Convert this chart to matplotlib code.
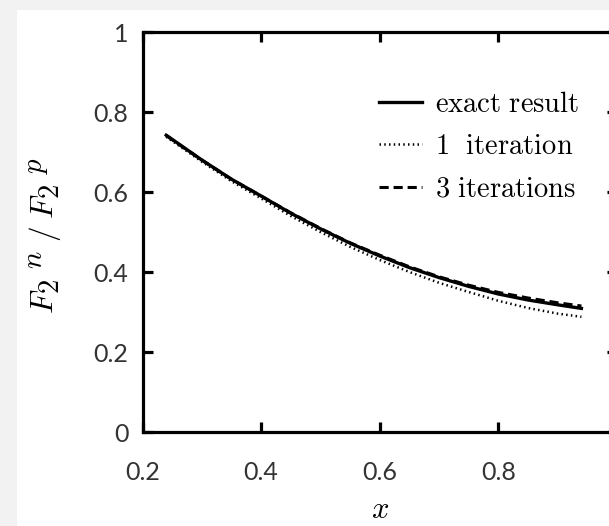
## F2n/F2p ratio vs x, exact result against iteration approximations

import matplotlib
matplotlib.use('Agg')
import matplotlib.pyplot as plt
import matplotlib._mathtext as mt
from matplotlib.patches import Rectangle

plt.rcParams['mathtext.fontset'] = 'cm'
mt.SHRINK_FACTOR = 0.92   # the original label has nearly full-size scripts

# Data
x_vals      = [0.24, 0.30, 0.35, 0.40, 0.45, 0.50, 0.55, 0.60, 0.65, 0.70, 0.75, 0.80, 0.85, 0.90, 0.94]
exact       = [0.742, 0.680, 0.632, 0.590, 0.547, 0.508, 0.472, 0.440, 0.411, 0.386, 0.364, 0.345, 0.330, 0.318, 0.309]
iter_1      = [0.738, 0.676, 0.627, 0.584, 0.540, 0.500, 0.463, 0.430, 0.400, 0.373, 0.350, 0.328, 0.310, 0.296, 0.288]
iter_3      = [0.741, 0.680, 0.632, 0.590, 0.548, 0.509, 0.473, 0.442, 0.413, 0.388, 0.367, 0.349, 0.335, 0.323, 0.315]

x_ticks      = [0.2, 0.4, 0.6, 0.8]
x_ticklabels = ['0.2', '0.4', '0.6', '0.8']
y_ticks      = [0, 0.2, 0.4, 0.6, 0.8, 1.0]
y_ticklabels = ['0', '0.2', '0.4', '0.6', '0.8', '1']

W, H = 609, 526
fig = plt.figure(figsize=(W/100, H/100), dpi=100)
fig.patch.set_facecolor('#f2f2f2')
fig.patches.append(Rectangle((17/W, 0), 1, (H-10)/H, transform=fig.transFigure,
                             facecolor='white', edgecolor='none', zorder=-10))

# axes runs off the right edge, like the cropped original
ax = fig.add_axes([142.5/W, 94/H, (617-142.5)/W, 400/H])
ax.set_facecolor('white')

ax.plot(x_vals, iter_1, color='black', lw=1.8, linestyle=(0, (0.6, 1.3)), label=r'$\mathrm{1\ \ iteration}$')
ax.plot(x_vals, iter_3, color='black', lw=2.2, linestyle=(0, (3, 1.6)), label=r'$\mathrm{3\ iterations}$')
ax.plot(x_vals, exact, color='black', lw=2.4, label=r'$\mathrm{exact\ result}$')

ax.set_xlim(0.2, 1.0)
ax.set_ylim(0, 1)
ax.set_xticks(x_ticks)
ax.set_xticklabels(x_ticklabels)
ax.set_yticks(y_ticks)
ax.set_yticklabels(y_ticklabels)

for s in ax.spines.values():
    s.set_linewidth(2.3)

ax.tick_params(direction='in', length=7.5, width=2.3, top=True, right=True,
               labelsize=18, labelcolor='#333333')
ax.tick_params(axis='x', pad=21)
ax.tick_params(axis='y', pad=10)
for lab in ax.get_xticklabels() + ax.get_yticklabels():
    lab.set_family(['Lato', 'DejaVu Sans'])

ax.set_xlabel(r'$x$', fontsize=22, va='center')
ax.xaxis.set_label_coords(0.5, -0.195)
ax.set_ylabel(r'$F_{2}{}^{\;n}\;/\;F_{2}{}^{\;p}$', fontsize=22.5)
ax.yaxis.set_label_coords(-0.163, 0.49)

# legend in the order of the original
h, l = ax.get_legend_handles_labels()
order = [2, 0, 1]
leg = ax.legend([h[i] for i in order], [l[i] for i in order],
                loc='upper left', bbox_to_anchor=(379/W, 1 - 90/H), bbox_transform=fig.transFigure,
                frameon=False, borderpad=0, borderaxespad=0, handlelength=1.5,
                handletextpad=0.45, labelspacing=0.5, fontsize=20.5)

fig.savefig('out.png', dpi=100, facecolor=fig.get_facecolor())
